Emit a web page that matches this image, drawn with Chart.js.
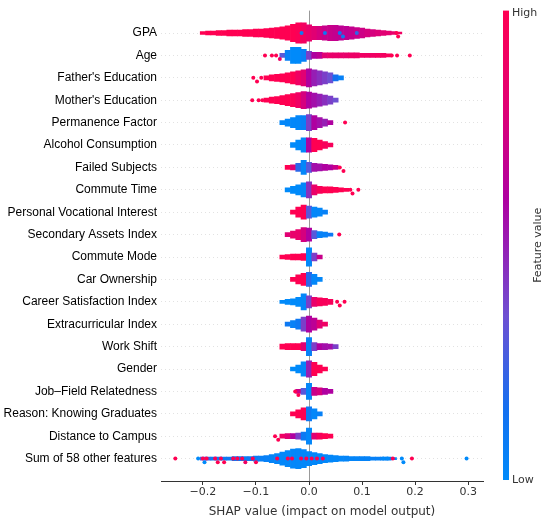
<!DOCTYPE html>
<html>
<head>
<meta charset="utf-8">
<script src="https://cdn.jsdelivr.net/npm/chart.js@4"></script>
<style>
  html, body { margin: 0; padding: 0; background: #fff; }
  #wrap { width: 550px; height: 519px; }
</style>
</head>
<body>
<div id="wrap"><canvas id="shap" width="550" height="519"></canvas></div>
<script>
// --- DATOS ---
const features = [
  "GPA", "Age", "Father's Education", "Mother's Education", "Permanence Factor",
  "Alcohol Consumption", "Failed Subjects", "Commute Time", "Personal Vocational Interest",
  "Secondary Assets Index", "Commute Mode", "Car Ownership", "Career Satisfaction Index",
  "Extracurricular Index", "Work Shift", "Gender", "Job\u2013Field Relatedness",
  "Reason: Knowing Graduates", "Distance to Campus", "Sum of 58 other features"
];

const xTicks = [-0.2, -0.1, 0.0, 0.1, 0.2, 0.3];

// primer bin (valor SHAP) de cada fila; bins cada 0.01
const binStart = [-0.20, -0.05, -0.08, -0.08, -0.05, -0.03, -0.04, -0.04, -0.03, -0.04,
                  -0.05, -0.03, -0.05, -0.04, -0.05, -0.03, -0.02, -0.03, -0.05, -0.20];

// densidad de puntos por bin (grosor relativo del enjambre)
const density = [
  [1.5,2,2,2.5,2.5,3,3,3,3.5,3.5,4,4,4.5,5,5.5,6,7,8.5,10,10,8,6.5,6.5,7,7.5,7.5,7,6.5,6,5.5,5,4,3.5,3,2.5,2,1.5,1],
  [2,5,8,8,6,4,3,3,2.5,2.5,2.5,2.5,2.5,2.5,2.5,2,2,2,2,2,1.5],
  [2,3,3.5,4,5,6,7,8,9,8,7,6,5,3,2],
  [2,3,3.5,4.5,5.5,6.5,7.5,8.5,8,7,6,5,4,2],
  [2,3.5,5,7,7,8,7,5,3.5,2],
  [2.5,5,7,7,6.5,5,3.5,2],
  [2,2.5,4,7,5,4,3.5,3,2.5,2],
  [2,3.5,5,7,8,5,3.5,3,3,2.5,2,1.5],
  [2,5,7,6,5,4,2],
  [2,3.5,5,7,6.5,4,3,2.5,1.5],
  [2,2.5,3,3,3.5,9,4,2],
  [2,4.5,6,7,5,2],
  [1.5,2.5,3,4.5,8,6,4.5,4,3.5,2.5],
  [2,3.5,5,7,8,6,4,2],
  [2.5,3,3,3,4,9,4,3,3,2.5,2],
  [2,4,7,8,6.5,4,2],
  [2,3,8,4,3.5,3,2],
  [2,4,6,7,5,2],
  [2,2.5,2.5,3,4,8,3,3,2.5,2],
  [1.5,1.5,1.5,1.5,1.5,1.5,2,2,2,2,2.5,2.5,3,4,5,6.5,8,9.5,10,9,7,6,5,4,3.5,3,2.5,2.5,2,2,2,2,1.5,1.5,1.5,1.5,1]
];

// valor medio de la variable por bin (0 = bajo, 1 = alto)
const featureValue = [
  [1,1,1,1,1,1,1,1,1,1,1,1,1,1,1,1,1,1,0.97,0.92,0.85,0.8,0.75,0.7,0.7,0.68,0.66,0.66,0.68,0.7,0.72,0.75,0.75,0.78,0.8,0.82,0.85,0.9],
  [0.3,0.05,0,0,0.05,0.4,0.6,0.65,0.8,0.85,0.85,0.85,0.85,0.88,0.88,0.9,0.9,0.9,0.92,0.92,0.95],
  [1,1,1,1,1,1,0.9,0.8,0.6,0.5,0.45,0.4,0.35,0.15,0.05],
  [1,1,1,1,1,0.97,0.9,0.75,0.6,0.55,0.5,0.45,0.4,0.35],
  [0.02,0.02,0.02,0.02,0.05,0.4,0.6,0.55,0.5,0.6],
  [0,0,0.02,0.6,1,1,0.95,0.95],
  [1,0.8,0.2,0.02,0.3,0.55,0.55,0.6,0.6,0.7],
  [0,0,0,0.02,0.45,0.85,0.95,1,1,1,1,1],
  [1,1,1,0.3,0.02,0.02,0.05],
  [0.8,0.85,0.85,0.75,0.6,0.3,0.05,0.05,0.1],
  [1,1,1,1,1,0.02,0.4,0.7],
  [1,1,1,0.2,0.02,0.02],
  [0,0,0,0,0.02,0.4,0.85,0.95,0.95,0.95],
  [0.1,0.05,0.1,0.4,0.6,0.65,0.8,0.9],
  [1,1,1,1,0.8,0.05,0.4,0.6,0.55,0.55,0.4],
  [0,0,0.02,0.5,1,1,1],
  [0.7,0.3,0.02,0.7,0.75,0.6,0.6],
  [1,1,1,0.1,0.02,0.05],
  [0.9,0.8,0.6,0.4,0.1,0.02,0.8,0.95,1,1],
  [0.3,0.2,0.1,0.1,0.1,0.1,0.1,0.1,0.08,0.08,0.08,0.06,0.05,0.04,0.03,0.02,0.02,0.02,0.02,0.02,0.02,0.02,0.02,0.02,0.02,0.02,0.02,0.03,0.03,0.03,0.04,0.04,0.05,0.05,0.05,0.05,0.05]
];

// puntos sueltos visibles: [valor SHAP, valor de la variable]
const dots = [
  [[-0.014,0.1],[0.03,0.1],[0.058,0.15],[0.064,0.1],[0.09,0.2],[0.165,1],[0.168,1]],
  [[-0.083,1],[-0.07,1],[-0.062,1],[-0.055,0.9],[0.156,1],[0.166,1],[0.19,1]],
  [[-0.105,1],[-0.098,1],[-0.09,1]],
  [[-0.107,1],[-0.095,1],[-0.088,1]],
  [[0.068,1]],
  [],
  [[0.058,1],[0.065,1]],
  [[0.078,1],[0.082,1],[0.093,1]],
  [],
  [[0.057,1]],
  [],
  [],
  [[0.053,1],[0.058,1],[0.067,1]],
  [],
  [],
  [],
  [[-0.026,1],[-0.02,1]],
  [],
  [[-0.064,1],[-0.058,1]],
  [[-0.252,1],[-0.209,0],[-0.2,1],[-0.197,0],[-0.193,1],[-0.177,1],[-0.172,1],[-0.166,1],[-0.16,1],
   [-0.143,1],[-0.135,1],[-0.126,1],[-0.12,0.9],[-0.106,1],[-0.1,1],[-0.06,1],[-0.04,1],[-0.032,1],
   [-0.015,1],[-0.005,1],[0.005,1],[0.015,1],[0.026,1],[0.14,0],[0.148,0],[0.158,1],[0.175,0],
   [0.178,0],[0.194,1],[0.297,0]]
];

// --- MAPA DE COLOR (rojo-azul de SHAP) ---
const colorStops = [
  [0.00, [0, 138, 250]],
  [0.15, [20, 112, 240]],
  [0.35, [110, 80, 210]],
  [0.50, [150, 30, 180]],
  [0.60, [175, 0, 160]],
  [0.80, [225, 0, 115]],
  [1.00, [255, 0, 82]]
];

function colorDe(v) {
  for (let i = 1; i < colorStops.length; i++) {
    if (v <= colorStops[i][0]) {
      const [a, ca] = colorStops[i - 1];
      const [b, cb] = colorStops[i];
      const t = (v - a) / (b - a);
      const c = ca.map((c0, k) => Math.round(c0 + (cb[k] - c0) * t));
      return `rgb(${c[0]},${c[1]},${c[2]})`;
    }
  }
  return 'rgb(255,0,82)';
}

// --- CONSTRUCCION DE LOS DATASETS ---
const grosorFila = 0.045;  // media altura por unidad de densidad (en filas)
const barras = [], coloresBarras = [];
density.forEach((fila, r) => {
  fila.forEach((d, i) => {
    const x = Math.round((binStart[r] + i * 0.01) * 1000) / 1000;
    barras.push({ x: x, y: [r - d * grosorFila, r + d * grosorFila] });
    coloresBarras.push(colorDe(featureValue[r][i]));
  });
});

// acomodo tipo enjambre para los puntos sueltos
const puntos = [], coloresPuntos = [];
dots.forEach((lista, r) => {
  const colocados = [];
  [...lista].sort((a, b) => a[0] - b[0]).forEach(([x, v]) => {
    const desplazamientos = [0, 0.16, -0.16, 0.32, -0.32, 0.48, -0.48];
    let off = 0;
    for (const o of desplazamientos) {
      if (!colocados.some(p => p.o === o && Math.abs(p.x - x) < 0.007)) { off = o; break; }
    }
    colocados.push({ x: x, o: off });
    puntos.push({ x: x, y: r + off });
    coloresPuntos.push(colorDe(v));
  });
});

// --- BARRA DE COLOR A LA DERECHA ---
const barraColor = {
  id: 'barraColor',
  afterDraw(chart) {
    const { ctx, chartArea } = chart;
    const x0 = chartArea.right + 20, w = 6;
    const top = chartArea.top, bottom = chartArea.bottom - 1;
    const grad = ctx.createLinearGradient(0, bottom, 0, top);
    colorStops.forEach(([s]) => grad.addColorStop(s, colorDe(s)));
    ctx.save();
    ctx.fillStyle = grad;
    ctx.fillRect(x0, top, w, bottom - top);
    ctx.fillStyle = '#333';
    ctx.font = '11px "DejaVu Sans"';
    ctx.textBaseline = 'middle';
    ctx.textAlign = 'left';
    ctx.fillText('High', x0 + w + 3, top + 3);
    ctx.fillText('Low', x0 + w + 3, bottom);
    ctx.translate(x0 + 35, (top + bottom) / 2);
    ctx.rotate(-Math.PI / 2);
    ctx.textAlign = 'center';
    ctx.fillText('Feature value', 0, 0);
    ctx.restore();
  }
};

const ctx = document.getElementById('shap').getContext('2d');
const miGrafico = new Chart(ctx, {
  type: 'bar',
  data: {
    datasets: [
      {
        type: 'scatter',
        data: puntos,
        backgroundColor: coloresPuntos,
        borderWidth: 0,
        pointRadius: 2,
        order: 0
      },
      {
        type: 'bar',
        data: barras,
        backgroundColor: coloresBarras,
        borderWidth: 0,
        barPercentage: 1,
        categoryPercentage: 1,
        order: 1
      }
    ]
  },
  options: {
    responsive: false,
    animation: false,
    layout: { padding: { top: 10.6, right: 67, left: 0, bottom: 0 } },
    plugins: { legend: { display: false }, tooltip: { enabled: false } },
    scales: {
      x: {
        type: 'linear',
        offset: false,
        min: -0.279,
        max: 0.328,
        afterBuildTicks: s => { s.ticks = xTicks.map(v => ({ value: v })); },
        afterFit: s => { s.height = 38; s.paddingLeft = 0; s.paddingRight = 0; },
        ticks: {
          color: '#333',
          font: { family: 'DejaVu Sans', size: 11 },
          padding: 1,
          callback: v => (v < 0 ? '\u2212' : '') + Math.abs(v).toFixed(1)
        },
        grid: {
          offset: false,
          color: c => (c.tick && c.tick.value === 0 ? '#999' : 'rgba(0,0,0,0)'),
          lineWidth: 1,
          tickColor: '#333',
          tickLength: 4
        },
        border: { display: true, color: '#333', width: 1 },
        title: {
          display: true,
          text: 'SHAP value (impact on model output)',
          color: '#333',
          font: { family: 'DejaVu Sans', size: 12 },
          padding: { top: 1, bottom: 0 }
        }
      },
      y: {
        type: 'linear',
        reverse: true,
        min: -1,
        max: 20,
        afterBuildTicks: s => { s.ticks = features.map((_, i) => ({ value: i })); },
        afterFit: s => { s.width = 161; s.paddingTop = 0; s.paddingBottom = 0; },
        ticks: {
          color: '#000',
          font: { family: 'Liberation Sans', size: 12 },
          padding: 4,
          callback: v => features[v]
        },
        grid: { color: '#e2e2e2', lineWidth: 1, drawTicks: false },
        border: { display: false, dash: [1, 3] }
      }
    }
  },
  plugins: [barraColor]
});
</script>
</body>
</html>
